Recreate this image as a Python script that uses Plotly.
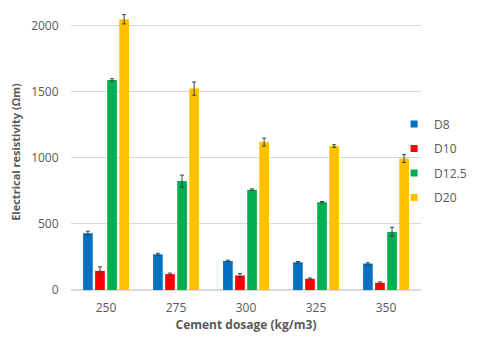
import plotly.graph_objects as go

dosage = ["250", "275", "300", "325", "350"]
series = ["D8", "D10", "D12.5", "D20"]
colors = ["#0070C0", "#FF0000", "#00B050", "#FFC000"]

d8 = [430, 270, 220, 210, 200]
d10 = [145, 120, 110, 85, 55]
d125 = [1590, 825, 760, 665, 440]
d20 = [2050, 1525, 1120, 1090, 995]

d8_err = [15, 8, 6, 6, 6]
d10_err = [30, 8, 15, 6, 6]
d125_err = [10, 45, 6, 5, 35]
d20_err = [35, 50, 30, 10, 30]

values = [d8, d10, d125, d20]
errors = [d8_err, d10_err, d125_err, d20_err]

fig = go.Figure()
for name, col, v, e in zip(series, colors, values, errors):
    fig.add_trace(go.Bar(
        x=dosage, y=v, name=name, marker_color=col, marker_line_width=0,
        error_y=dict(type="data", array=e, color="#404040", thickness=1, width=2),
        showlegend=False, legendgroup=name,
    ))
    # small square legend entries, like the Excel legend keys
    fig.add_trace(go.Scatter(
        x=[None], y=[None], mode="markers", name=name, legendgroup=name,
        marker=dict(symbol="square", size=7, color=col),
    ))

# page body adds an 8px margin, so the figure is a bit smaller than the window
fig.update_layout(
    width=472, height=331,
    margin=dict(l=63, r=59, t=6, b=49, autoexpand=False),
    paper_bgcolor="white", plot_bgcolor="white",
    barmode="group", bargap=0.31, bargroupgap=0.2,
    font=dict(family="Open Sans", color="#595959", size=12),
    legend=dict(xref="container", x=0.818, xanchor="left",
                yref="container", y=0.693, yanchor="top",
                font=dict(size=12), itemwidth=30,
                tracegroupgap=5.5, bgcolor="rgba(0,0,0,0)"),
    showlegend=True,
)
fig.update_xaxes(
    title=dict(text="<b>Cement dosage (kg/m3)</b>", font=dict(size=12), standoff=4),
    showgrid=False, ticks="outside", ticklen=7, tickcolor="rgba(0,0,0,0)",
    showline=False, automargin=False,
)
fig.update_yaxes(
    title=dict(text="<b>Electrical resistivity (Ωm)</b>", font=dict(size=11), standoff=8),
    range=[0, 2090], tickvals=[0, 500, 1000, 1500, 2000],
    showgrid=True, gridcolor="#D9D9D9", gridwidth=1, zeroline=True,
    zerolinecolor="#D9D9D9", ticks="outside", ticklen=9,
    tickcolor="rgba(0,0,0,0)", automargin=False,
)

fig.write_html("out.html")
